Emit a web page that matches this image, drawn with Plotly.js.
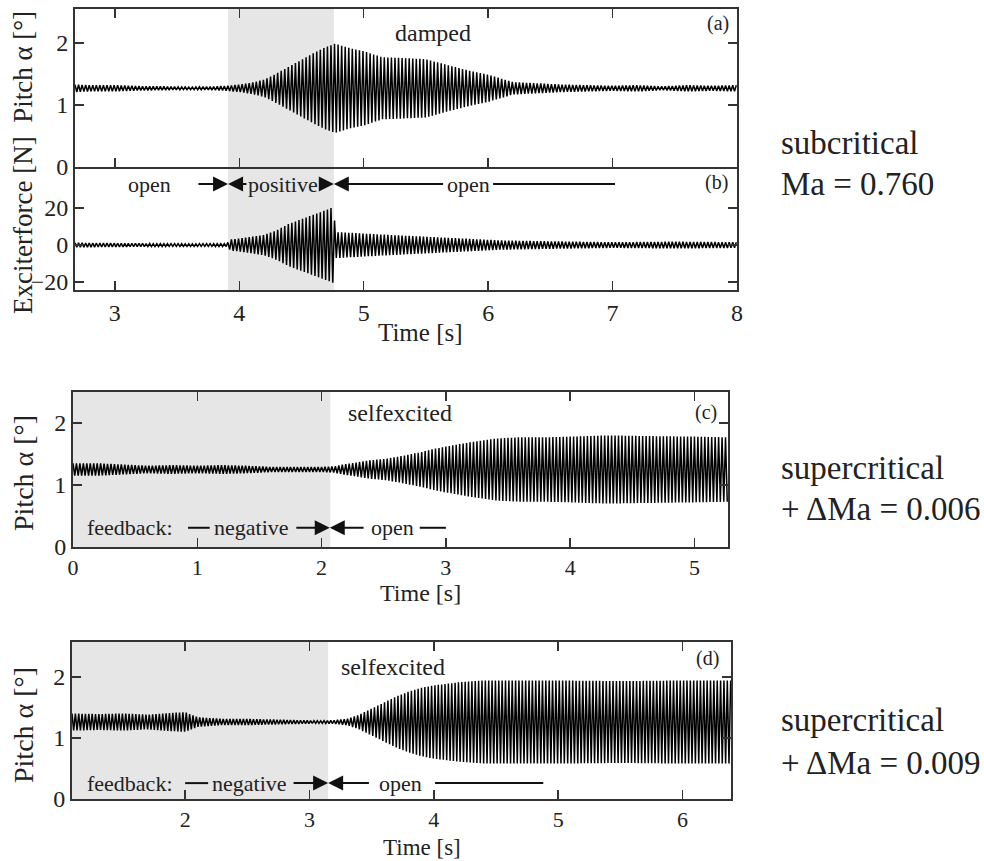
<!DOCTYPE html>
<html>
<head>
<meta charset="utf-8">
<script src="https://cdn.plot.ly/plotly-3.0.1.min.js"></script>
<style>html,body{margin:0;padding:0;background:#fff;}#chart{width:984px;height:861px;}</style>
</head>
<body>
<div id="chart"></div>
<script>
// ---------- data (oscillation envelopes) ----------
// Panel (a): pitch, damped case, half peak-to-peak amplitude [deg] vs time [s]
const aTime = [2.68, 2.8, 3.0, 3.2, 3.4, 3.6, 3.8, 3.9, 4.0, 4.1, 4.2, 4.3, 4.4, 4.5, 4.6, 4.7, 4.77, 4.9, 5.0, 5.15, 5.3, 5.5, 5.7, 5.9, 6.0, 6.1, 6.2, 6.4, 6.6, 6.8, 7.0, 7.2, 7.4, 7.6, 7.8, 8.0];
const aAmp  = [0.06, 0.05, 0.05, 0.035, 0.03, 0.02, 0.03, 0.04, 0.06, 0.09, 0.14, 0.24, 0.35, 0.46, 0.57, 0.67, 0.72, 0.64, 0.6, 0.5, 0.49, 0.47, 0.36, 0.26, 0.22, 0.16, 0.1, 0.08, 0.06, 0.05, 0.04, 0.05, 0.03, 0.05, 0.04, 0.05];
const aMean = 1.27;
const aFreq = 35;
// Panel (b): exciter force [N]
const bTime = [2.68, 3.0, 3.3, 3.6, 3.9, 3.93, 4.0, 4.1, 4.2, 4.3, 4.4, 4.5, 4.6, 4.7, 4.755, 4.775, 4.85, 5.0, 5.2, 5.5, 5.8, 6.1, 6.5, 7.0, 7.5, 8.0];
const bAmp  = [1.2, 1.0, 0.8, 0.7, 0.8, 3, 3.5, 4.5, 5.5, 8, 11.5, 14, 16.5, 19, 20.5, 7, 6.8, 6.2, 5.5, 4.5, 3.5, 2.5, 2, 1.5, 1.8, 1.5];
const bMean = 0;
const bFreq = 35;
// Panel (c): pitch, selfexcited, +dMa = 0.006
const cTime = [0, 0.2, 0.4, 0.6, 0.8, 1.0, 1.2, 1.4, 1.6, 1.8, 2.0, 2.1, 2.2, 2.3, 2.4, 2.5, 2.6, 2.7, 2.8, 2.9, 3.0, 3.2, 3.4, 3.6, 3.8, 4.0, 4.3, 4.6, 5.0, 5.27];
const cAmp  = [0.1, 0.1, 0.08, 0.06, 0.07, 0.06, 0.07, 0.06, 0.04, 0.04, 0.04, 0.05, 0.09, 0.12, 0.15, 0.17, 0.2, 0.24, 0.28, 0.33, 0.37, 0.44, 0.5, 0.52, 0.52, 0.53, 0.55, 0.54, 0.53, 0.52];
const cMean = 1.25;
const cFreq = 36;
// Panel (d): pitch, selfexcited, +dMa = 0.009
const dTime = [1.09, 1.3, 1.5, 1.7, 1.9, 2.0, 2.1, 2.3, 2.5, 2.7, 2.9, 3.1, 3.2, 3.3, 3.4, 3.5, 3.6, 3.7, 3.8, 3.9, 4.0, 4.2, 4.4, 5.0, 5.5, 6.0, 6.39];
const dAmp  = [0.14, 0.13, 0.14, 0.12, 0.15, 0.16, 0.08, 0.05, 0.05, 0.04, 0.03, 0.02, 0.03, 0.05, 0.12, 0.22, 0.32, 0.42, 0.5, 0.56, 0.6, 0.65, 0.68, 0.68, 0.67, 0.68, 0.68];
const dMean = 1.26;
const dFreq = 37;
// Feedback phases (shaded = controller active)
const abShade = [3.91, 4.76];
const cShade = [0, 2.07];
const dShade = [1.09, 3.15];
// Tick labels
const abTicks = [3, 4, 5, 6, 7, 8];
const cTicks = [0, 1, 2, 3, 4, 5];
const dTicks = [2, 3, 4, 5, 6];
const pitchTicks = [0, 1, 2];
const forceTicks = [-20, 0, 20];

// ---------- build oscillation from the envelopes ----------
function interp(ts, vs, t) {
  if (t <= ts[0]) return vs[0];
  for (let i = 1; i < ts.length; i++) {
    if (t <= ts[i]) { const f = (t - ts[i-1]) / (ts[i] - ts[i-1]); return vs[i-1] + f * (vs[i] - vs[i-1]); }
  }
  return vs[vs.length - 1];
}
function oscillation(ts, amps, mean, freq) {
  const x = [], y = [];
  const t0 = ts[0], t1 = ts[ts.length - 1];
  const n = Math.floor((t1 - t0) * 2 * freq);
  for (let k = 0; k <= n; k++) {
    const t = t0 + k / (2 * freq);
    x.push(t);
    y.push(mean + (k % 2 === 0 ? 1 : -1) * interp(ts, amps, t));
  }
  return {x, y};
}
const sa = oscillation(aTime, aAmp, aMean, aFreq);
const sb = oscillation(bTime, bAmp, bMean, bFreq);
const sc = oscillation(cTime, cAmp, cMean, cFreq);
const sd = oscillation(dTime, dAmp, dMean, dFreq);

const lineStyle = {color: '#000', width: 1.5};
const data = [
  {x: sa.x, y: sa.y, xaxis: 'x2', yaxis: 'y', type: 'scatter', mode: 'lines', line: lineStyle, hoverinfo: 'skip'},
  {x: sb.x, y: sb.y, xaxis: 'x', yaxis: 'y2', type: 'scatter', mode: 'lines', line: lineStyle, hoverinfo: 'skip'},
  {x: sc.x, y: sc.y, xaxis: 'x4', yaxis: 'y3', type: 'scatter', mode: 'lines', line: lineStyle, hoverinfo: 'skip'},
  {x: sd.x, y: sd.y, xaxis: 'x5', yaxis: 'y4', type: 'scatter', mode: 'lines', line: lineStyle, hoverinfo: 'skip'}
];

// ---------- layout ----------
const W = 984, H = 861;
const X = p => p / W;
const Y = p => 1 - p / H;
const FONT = 'Liberation Serif, Times New Roman, serif';
const ax = {showgrid: false, zeroline: false, showline: true, linecolor: '#333', linewidth: 2,
  ticks: 'inside', ticklen: 9, tickwidth: 1.5, tickcolor: '#333', mirror: 'ticks',
  tickfont: {family: FONT, size: 24, color: '#222'}, fixedrange: true};
const smallTick = {family: FONT, size: 22, color: '#222'};

function txt(text, x, y, xref, yref, size, extra) {
  return Object.assign({text, x, y, xref, yref, showarrow: false, font: {family: FONT, size, color: '#222'},
    xanchor: 'center', yanchor: 'middle'}, extra || {});
}
function arrow(tip, tail, y, xref, yref) {
  return {text: '', x: tip, y, xref, yref, ax: tail, ay: y, axref: xref, ayref: yref, showarrow: true,
    arrowhead: 2, arrowsize: 1.5, arrowwidth: 2, arrowcolor: '#111', standoff: 0, startstandoff: 0};
}
function hline(x0, x1, y, xref, yref) {
  return {type: 'line', x0, x1, y0: y, y1: y, xref, yref, line: {color: '#111', width: 2}};
}

const yStripAB = 33, yStripC = 0.31, yStripD = 0.26;

const layout = {
  width: W, height: H, margin: {l: 0, r: 0, t: 0, b: 0}, showlegend: false,
  paper_bgcolor: '#fff', plot_bgcolor: 'rgba(0,0,0,0)',
  font: {family: FONT, size: 22, color: '#222'},
  xaxis: Object.assign({}, ax, {anchor: 'y2', domain: [X(75), X(737)], range: [2.68, 8], tickvals: abTicks, mirror: false}),
  xaxis2: Object.assign({}, ax, {anchor: 'y', domain: [X(75), X(737)], range: [2.68, 8], tickvals: abTicks, showticklabels: false, matches: 'x'}),
  xaxis3: Object.assign({}, ax, {anchor: 'free', overlaying: 'x', position: Y(202), domain: [X(75), X(737)], range: [2.68, 8], tickvals: abTicks.slice(0, 5), showline: false, mirror: false, ticks: 'outside', ticklen: 8, showticklabels: false}),
  yaxis: Object.assign({}, ax, {anchor: 'x2', domain: [Y(167), Y(9)], range: [0, 2.55], tickvals: pitchTicks}),
  yaxis2: Object.assign({}, ax, {anchor: 'x', domain: [Y(290), Y(167)], range: [-24.3, 42.2], tickvals: forceTicks}),
  xaxis4: Object.assign({}, ax, {anchor: 'y3', domain: [X(73), X(728)], range: [0, 5.27], tickvals: cTicks, tickfont: smallTick}),
  yaxis3: Object.assign({}, ax, {anchor: 'x4', domain: [Y(547), Y(392)], range: [0, 2.5], tickvals: pitchTicks}),
  xaxis5: Object.assign({}, ax, {anchor: 'y4', domain: [X(72), X(731)], range: [1.09, 6.39], tickvals: dTicks, tickfont: smallTick}),
  yaxis4: Object.assign({}, ax, {anchor: 'x5', domain: [Y(799), Y(642)], range: [0, 2.57], tickvals: pitchTicks}),
  shapes: [
    {type: 'rect', xref: 'x', yref: 'paper', x0: abShade[0], x1: abShade[1], y0: Y(290), y1: Y(9), fillcolor: '#e6e6e6', line: {width: 0}, layer: 'below'},
    {type: 'rect', xref: 'x4', yref: 'y3', x0: cShade[0], x1: cShade[1], y0: 0, y1: 2.5, fillcolor: '#e6e6e6', line: {width: 0}, layer: 'below'},
    {type: 'rect', xref: 'x5', yref: 'y4', x0: dShade[0], x1: dShade[1], y0: 0, y1: 2.57, fillcolor: '#e6e6e6', line: {width: 0}, layer: 'below'},
    hline(6.04, 7.02, yStripAB, 'x', 'y2'),
    hline(0.925, 1.10, yStripC, 'x4', 'y3'),
    hline(2.79, 3.0, yStripC, 'x4', 'y3'),
    hline(2.0, 2.185, yStripD, 'x5', 'y4'),
    hline(4.01, 4.88, yStripD, 'x5', 'y4')
  ],
  annotations: [
    // panel tags and regime words
    txt('damped', X(433), Y(33), 'paper', 'paper', 24),
    txt('(a)', X(718), Y(23), 'paper', 'paper', 20),
    txt('(b)', X(716), Y(182), 'paper', 'paper', 20),
    txt('selfexcited', X(400), Y(413), 'paper', 'paper', 24),
    txt('(c)', X(706), Y(412), 'paper', 'paper', 20),
    txt('selfexcited', X(393), Y(667), 'paper', 'paper', 24),
    txt('(d)', X(707), Y(658), 'paper', 'paper', 20),
    // feedback strip (a)/(b)
    txt('open', 3.28, yStripAB, 'x', 'y2', 22),
    arrow(3.91, 3.66, yStripAB, 'x', 'y2'),
    arrow(3.91, 4.07, yStripAB, 'x', 'y2'),
    txt('positive', 4.355, yStripAB, 'x', 'y2', 22),
    arrow(4.76, 4.64, yStripAB, 'x', 'y2'),
    arrow(4.76, 5.65, yStripAB, 'x', 'y2'),
    txt('open', 5.84, yStripAB, 'x', 'y2', 22),
    // feedback strip (c)
    txt('feedback:', 0.458, yStripC, 'x4', 'y3', 22),
    txt('negative', 1.44, yStripC, 'x4', 'y3', 22),
    arrow(2.066, 1.785, yStripC, 'x4', 'y3'),
    arrow(2.066, 2.35, yStripC, 'x4', 'y3'),
    txt('open', 2.57, yStripC, 'x4', 'y3', 22),
    // feedback strip (d)
    txt('feedback:', 1.557, yStripD, 'x5', 'y4', 22),
    txt('negative', 2.52, yStripD, 'x5', 'y4', 22),
    arrow(3.15, 2.86, yStripD, 'x5', 'y4'),
    arrow(3.15, 3.49, yStripD, 'x5', 'y4'),
    txt('open', 3.73, yStripD, 'x5', 'y4', 22),
    // axis titles
    txt('Exciterforce [N]  Pitch α [°]', X(23), Y(163), 'paper', 'paper', 27, {textangle: -90}),
    txt('Pitch α [°]', X(23), Y(473), 'paper', 'paper', 28, {textangle: -90}),
    txt('Pitch α [°]', X(23), Y(725), 'paper', 'paper', 28, {textangle: -90}),
    txt('Time [s]', X(420), Y(333), 'paper', 'paper', 25),
    txt('Time [s]', X(420), Y(593), 'paper', 'paper', 24),
    txt('Time [s]', X(422), Y(847), 'paper', 'paper', 23),
    // regime descriptions
    txt('subcritical', X(779), Y(143), 'paper', 'paper', 33, {xanchor: 'left'}),
    txt('Ma = 0.760', X(779), Y(184), 'paper', 'paper', 33, {xanchor: 'left'}),
    txt('supercritical', X(779), Y(468), 'paper', 'paper', 33, {xanchor: 'left'}),
    txt('+ ΔMa = 0.006', X(779), Y(509), 'paper', 'paper', 33, {xanchor: 'left'}),
    txt('supercritical', X(779), Y(720), 'paper', 'paper', 33, {xanchor: 'left'}),
    txt('+ ΔMa = 0.009', X(779), Y(763), 'paper', 'paper', 33, {xanchor: 'left'})
  ]
};

Plotly.newPlot('chart', data, layout, {staticPlot: true, displayModeBar: false});
</script>
</body>
</html>
